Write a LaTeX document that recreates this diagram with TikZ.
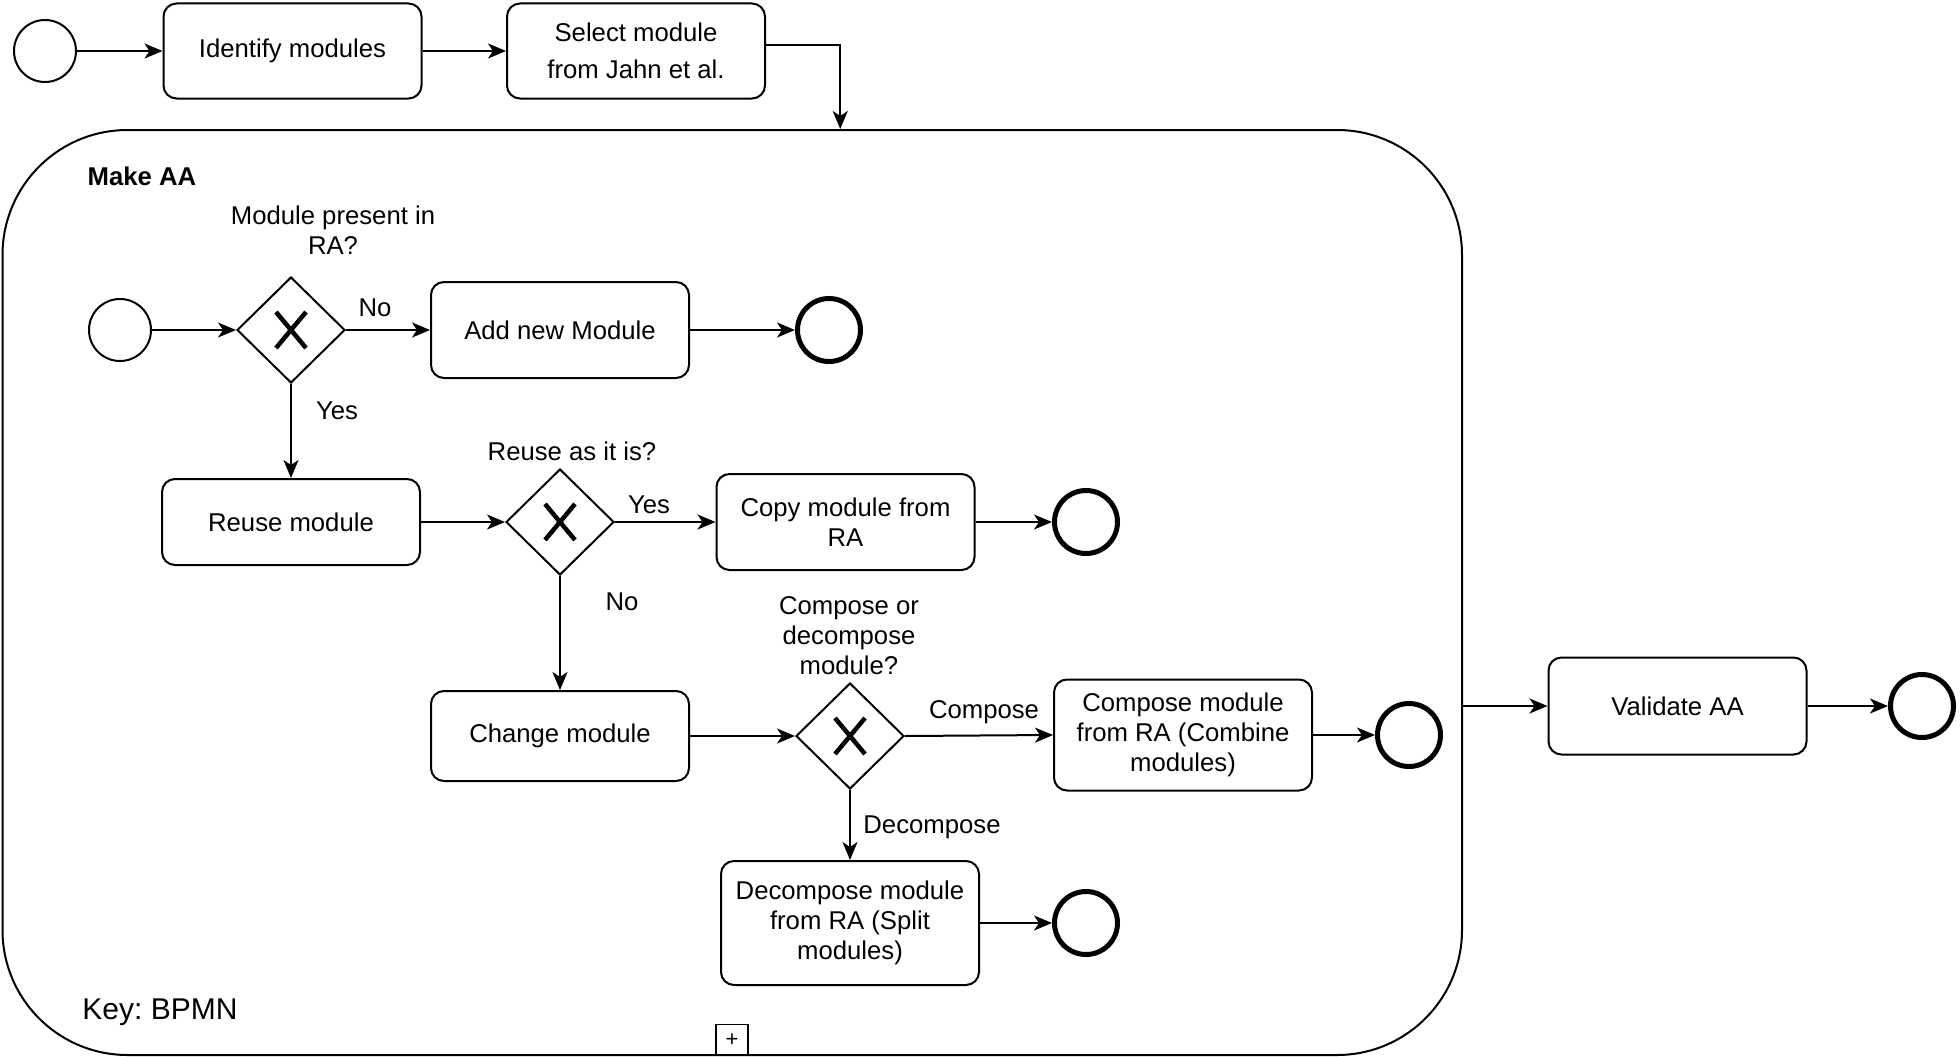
\documentclass[tikz,border=0pt]{standalone}
\usepackage{fontspec}
\setmainfont{Liberation Sans}
\usetikzlibrary{shapes.geometric,arrows.meta}
\frenchspacing
\begin{document}
\begin{tikzpicture}[x=1pt,y=-1pt,
  font=\fontsize{25.7}{30}\selectfont,
  task/.style={draw, line width=2pt, rounded corners=13pt, align=center, inner sep=0pt, minimum width=258pt},
  startev/.style={draw, circle, line width=2pt, minimum size=62pt, inner sep=0pt},
  endev/.style={draw, circle, line width=5pt, minimum size=63pt, inner sep=0pt},
  gw/.style={draw, diamond, line width=2pt, minimum width=108pt, minimum height=106pt, inner sep=0pt, shape aspect=1,
    path picture={
      \draw[line width=4.5pt] ([xshift=-15pt,yshift=-18pt]path picture bounding box.center) -- ([xshift=15pt,yshift=18pt]path picture bounding box.center);
      \draw[line width=4.5pt] ([xshift=-15pt,yshift=18pt]path picture bounding box.center) -- ([xshift=15pt,yshift=-18pt]path picture bounding box.center);
    }},
  flow/.style={draw, line width=2pt, -{Stealth[length=18pt,width=15pt,inset=5pt]}},
  lbl/.style={align=center, inner sep=0pt},
]
\useasboundingbox (0,0) rectangle (1960,1057);

% container
\node[draw, line width=2pt, rounded corners=125pt, minimum width=1459.5pt, minimum height=925pt, inner sep=0pt] (aa) at (732.25,592.5) {};
\node[lbl, font=\bfseries\fontsize{25.7}{30}\selectfont] (title) at (142,176) {Make AA};
\node[lbl, font=\fontsize{30}{34}\selectfont] (key) at (160,1012) {Key: BPMN};
\node[draw, line width=1.5pt, minimum width=32pt, minimum height=31pt, inner sep=0pt, font=\fontsize{22}{22}\selectfont] (plus) at (732,1040) {+};

% top row
\node[startev] (s0) at (45,51) {};
\node[task, minimum height=95pt] (identify) at (292.5,51) {Identify modules};
\node[task, minimum height=95pt, font=\fontsize{25.7}{37.5}\selectfont] (select) at (636,51) {Select module\\from Jahn et al.};

% inner process
\node[startev] (s1) at (120,330) {};
\node[gw] (g1) at (291,330) {};
\node[lbl] (q1) at (333,230) {Module present in\\RA?};
\node[task, minimum height=96pt] (add) at (560,330) {Add new Module};
\node[endev] (e1) at (829,330) {};
\node[lbl] (lno1) at (375,308) {No};
\node[lbl] (lyes1) at (337,411) {Yes};

\node[task, minimum height=86pt] (reuse) at (291,522) {Reuse module};
\node[gw] (g2) at (560,522) {};
\node[lbl] (q2) at (572,451) {Reuse as it is?};
\node[lbl] (lyes2) at (649,505) {Yes};
\node[task, minimum height=96pt] (copy) at (845.5,522) {Copy module from\\RA};
\node[endev] (e2) at (1086,522) {};
\node[lbl] (lno2) at (622,602) {No};

\node[task, minimum height=90pt] (change) at (560,736) {Change module};
\node[gw] (g3) at (850,736) {};
\node[lbl] (q3) at (849,636) {Compose or\\decompose\\module?};
\node[lbl] (lcomp) at (984,712) {Compose};
\node[task, minimum height=111pt] (compose) at (1183,735) {Compose module\\from RA (Combine\\modules)};
\node[endev] (e3) at (1409,735) {};
\node[lbl] (ldecomp) at (932,827) {Decompose};
\node[task, minimum height=124pt] (decompose) at (850,923) {Decompose module\\from RA (Split\\modules)};
\node[endev] (e4) at (1086,923) {};

% outside
\node[task, minimum height=97pt] (validate) at (1677.5,706) {Validate AA};
\node[endev] (e5) at (1922,706) {};

% flows
\draw[flow] (s0.east) -- (identify.west);
\draw[flow] (identify.east) -- (select.west);
\draw[flow] ([yshift=6pt]select.east) -| ([xshift=108pt]aa.north);
\draw[flow] (aa.east |- validate.west) -- (validate.west);
\draw[flow] (validate.east) -- (e5.west);

\draw[flow] (s1.east) -- (g1.west);
\draw[flow] (g1.east) -- (add.west);
\draw[flow] (add.east) -- (e1.west);
\draw[flow] (g1.south) -- (reuse.north);
\draw[flow] (reuse.east) -- (g2.west);
\draw[flow] (g2.east) -- (copy.west);
\draw[flow] (copy.east) -- (e2.west);
\draw[flow] (g2.south) -- (change.north);
\draw[flow] (change.east) -- (g3.west);
\draw[flow] (g3.east) -- (compose.west);
\draw[flow] (compose.east) -- (e3.west);
\draw[flow] (g3.south) -- (decompose.north);
\draw[flow] (decompose.east) -- (e4.west);
\end{tikzpicture}
\end{document}
